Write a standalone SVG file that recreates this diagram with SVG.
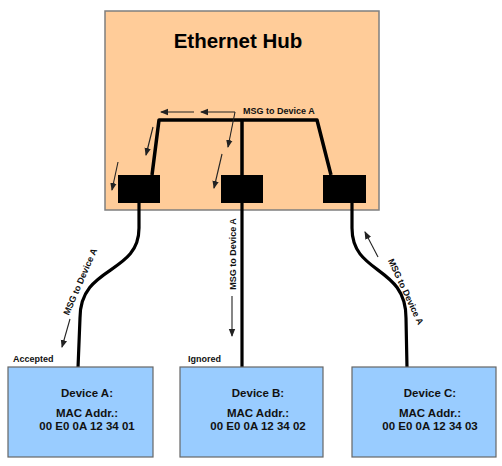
<svg xmlns="http://www.w3.org/2000/svg" width="502" height="466" viewBox="0 0 502 466">
<defs>
<marker id="ah" markerUnits="userSpaceOnUse" markerWidth="8" markerHeight="8" viewBox="0 0 8 8" refX="7" refY="4" orient="auto">
<path d="M0,0.8 L8,4 L0,7.2 Z" fill="#222"/>
</marker>
</defs>
<style>
.hub{fill:#ffcc99;stroke:#7f7f7f;stroke-width:1.5}
.dev{fill:#99ccff;stroke:#666;stroke-width:1.2}
.port{fill:#000}
.bus{fill:none;stroke:#000;stroke-width:3.5;stroke-linejoin:round}
.cable{fill:none;stroke:#000;stroke-width:3.2}
.arr{fill:none;stroke:#222;stroke-width:1.1;marker-end:url(#ah)}
.lbl{font-family:"Liberation Sans",Arial,sans-serif;font-weight:bold;font-size:9px;fill:#111}
.dt{font-family:"Liberation Sans",Arial,sans-serif;font-weight:bold;font-size:11.5px;fill:#111;text-anchor:middle}
.title{font-family:"Liberation Sans",Arial,sans-serif;font-weight:bold;font-size:20.5px;fill:#000;text-anchor:middle}
</style>
<g id="hub">
<rect class="hub" x="105" y="11" width="274" height="199"/>
<text class="title" x="238" y="48">Ethernet Hub</text>
<path class="bus" d="M152,175 L159,120 L317,120 L331,175 M242,120 L242,175"/>
<rect class="port" x="118" y="175" width="42" height="28"/>
<rect class="port" x="221" y="175" width="42" height="28"/>
<rect class="port" x="323" y="175" width="43" height="28"/>
<text class="lbl" x="243" y="114">MSG to Device A</text>
<line class="arr" x1="194" y1="112" x2="161" y2="112"/>
<line class="arr" x1="235" y1="112" x2="201" y2="112"/>
<line class="arr" x1="235" y1="112" x2="228" y2="147"/>
<line class="arr" x1="153" y1="127" x2="146" y2="155"/>
<line class="arr" x1="118" y1="162" x2="112" y2="190"/>
<line class="arr" x1="222" y1="154" x2="214" y2="188"/>
</g>
<g id="connectors">
<path class="cable" d="M139,203 L139,228 C139,275 80,265 80,318 L78,368"/>
<path class="cable" d="M242,203 L242,368"/>
<path class="cable" d="M352,203 L352,228 C352,275 406,265 406,318 L407,368"/>
<text class="lbl" text-anchor="middle" transform="translate(83,283) rotate(-66.5)">MSG to Device A</text>
<line class="arr" x1="70" y1="319" x2="62" y2="347"/>
<text class="lbl" text-anchor="middle" transform="translate(236,254) rotate(-90)">MSG to Device A</text>
<line class="arr" x1="232" y1="296" x2="232" y2="336"/>
<text class="lbl" text-anchor="middle" transform="translate(403,293) rotate(65)">MSG to Device A</text>
<line class="arr" x1="378" y1="257" x2="365" y2="232"/>
<text class="lbl" x="13" y="362">Accepted</text>
<text class="lbl" x="188" y="362">Ignored</text>
</g>
<g id="deviceA">
<rect class="dev" x="8" y="367" width="145" height="90"/>
<text class="dt" x="87" y="397">Device A:</text>
<text class="dt" x="87" y="417">MAC Addr.:</text>
<text class="dt" x="87" y="430">00 E0 0A 12 34 01</text>
</g>
<g id="deviceB">
<rect class="dev" x="180" y="367" width="143" height="90"/>
<text class="dt" x="258" y="397">Device B:</text>
<text class="dt" x="258" y="417">MAC Addr.:</text>
<text class="dt" x="258" y="430">00 E0 0A 12 34 02</text>
</g>
<g id="deviceC">
<rect class="dev" x="352" y="367" width="144" height="90"/>
<text class="dt" x="430" y="397">Device C:</text>
<text class="dt" x="430" y="417">MAC Addr.:</text>
<text class="dt" x="430" y="430">00 E0 0A 12 34 03</text>
</g>
</svg>
